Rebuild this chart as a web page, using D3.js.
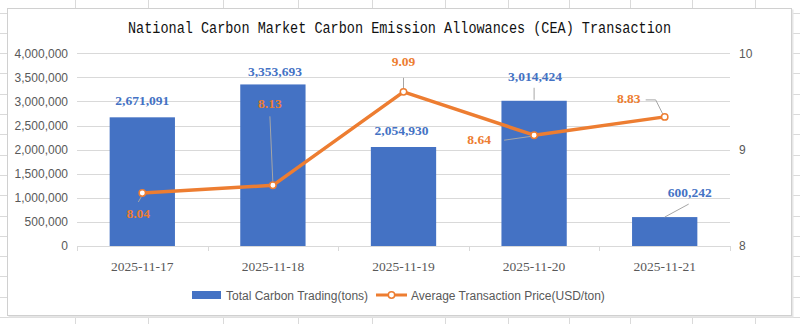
<!DOCTYPE html>
<html>
<head>
<meta charset="utf-8">
<script src="https://cdn.jsdelivr.net/npm/d3@7"></script>
<style>
  html, body { margin: 0; padding: 0; background: #fff; }
  svg { display: block; }
</style>
</head>
<body>
<script>
// ---------------- DATA ----------------
const categories = ["2025-11-17", "2025-11-18", "2025-11-19", "2025-11-20", "2025-11-21"];
const volumeTons = [2671091, 3353693, 2054930, 3014424, 600242];
// price values as plotted on the secondary axis
const pricePlotted = [8.55, 8.63, 9.60, 9.15, 9.34];
// price data labels as printed on the chart
const priceLabels = ["8.04", "8.13", "9.09", "8.64", "8.83"];
const leftTicks = [0, 500000, 1000000, 1500000, 2000000, 2500000, 3000000, 3500000, 4000000];
const rightTicks = [8, 9, 10];
const seriesNames = ["Total Carbon Trading(tons)", "Average Transaction Price(USD/ton)"];
const title = "National Carbon Market Carbon Emission Allowances (CEA) Transaction";

// ---------------- LAYOUT ----------------
const W = 800, H = 324;
const plot = { left: 77, right: 730, top: 53.3, bottom: 246 };
const blue = "#4472C4", orange = "#ED7D31", axisText = "#595959", grid = "#d9d9d9", leader = "#a6a6a6";

// label placement (pixel offsets, layout only)
const barLabelOff = [[0, -12], [2, -8], [-2, -12], [1, -20], [25, -20]];
const barLeader = [null, null, null, [[0, -1], [0, -13]], [[0, 0], [24, -13]]];
const priceLabelOff = [[-4, 25], [-3, -77], [0, -26], [-55, 9], [-36, -14]];
const priceLeader = [
  [[0, 2], [-4, 9]],
  [[-3, -69], [0, -2]],
  [[0, -14], [0, -3]],
  [[-30, 5], [-2, 1]],
  [[-19, -17], [-9, -17], [-2, -3]]
];

const svg = d3.select("body").append("svg").attr("width", W).attr("height", H);

// spreadsheet background grid
const colLines = [75, 148, 223, 298, 372, 445, 508, 569, 630, 692, 755];
const rowLines = d3.range(0, 16).map(i => 13 + i * 20.3);
svg.append("g").selectAll("line.c").data(colLines).join("line")
  .attr("x1", d => d).attr("x2", d => d).attr("y1", 0).attr("y2", H)
  .attr("stroke", "#dadada").attr("stroke-width", 1).attr("shape-rendering", "crispEdges");
svg.append("g").selectAll("line.r").data(rowLines).join("line")
  .attr("x1", 0).attr("x2", W).attr("y1", d => d).attr("y2", d => d)
  .attr("stroke", "#dadada").attr("stroke-width", 1).attr("shape-rendering", "crispEdges");

// chart frame
svg.append("rect").attr("x", 8.5).attr("y", 9.5).attr("width", 785).attr("height", 308)
  .attr("fill", "#e6e6e6");
svg.append("rect").attr("x", 7.5).attr("y", 8.5).attr("width", 784).attr("height", 307)
  .attr("fill", "#fff").attr("stroke", "#d0d0d0").attr("stroke-width", 1);

// title
svg.append("text").attr("x", 128).attr("y", 33)
  .attr("font-family", "'Liberation Mono', 'DejaVu Sans Mono', monospace")
  .attr("font-size", 16).attr("fill", "#111")
  .attr("textLength", 543).attr("lengthAdjust", "spacingAndGlyphs")
  .text(title);

// scales
const x = d3.scaleBand().domain(categories).range([plot.left, plot.right]).paddingInner(0.5).paddingOuter(0.25);
const xc = d3.scalePoint().domain(categories).range([plot.left, plot.right]).padding(0.5);
const yL = d3.scaleLinear().domain([0, 4000000]).range([plot.bottom, plot.top]);
const yR = d3.scaleLinear().domain([8, 10]).range([plot.bottom, plot.top]);

// gridlines
svg.append("g").selectAll("line").data(leftTicks.slice(1)).join("line")
  .attr("x1", plot.left).attr("x2", plot.right)
  .attr("y1", d => Math.round(yL(d)) + 0.5).attr("y2", d => Math.round(yL(d)) + 0.5)
  .attr("stroke", grid).attr("stroke-width", 1);

// left axis
const axL = d3.axisLeft(yL).tickValues(leftTicks).tickSize(0).tickPadding(9).tickFormat(d3.format(","));
const gL = svg.append("g").attr("transform", `translate(${plot.left},0)`).call(axL);
gL.select(".domain").remove();
gL.selectAll("text").attr("font-family", "'Liberation Sans', Arial, sans-serif").attr("font-size", 12).attr("fill", axisText);

// right axis
const axR = d3.axisRight(yR).tickValues(rightTicks).tickSize(0).tickPadding(9).tickFormat(d3.format("d"));
const gR = svg.append("g").attr("transform", `translate(${plot.right},0)`).call(axR);
gR.select(".domain").remove();
gR.selectAll("text").attr("font-family", "'Liberation Sans', Arial, sans-serif").attr("font-size", 12).attr("fill", axisText);

// bars
svg.append("g").selectAll("rect").data(volumeTons).join("rect")
  .attr("x", (d, i) => x(categories[i]))
  .attr("width", x.bandwidth())
  .attr("y", d => yL(d))
  .attr("height", d => yL(0) - yL(d))
  .attr("fill", blue);

// x axis
const axB = d3.axisBottom(x).tickSize(0).tickPadding(15);
const gB = svg.append("g").attr("transform", `translate(0,${plot.bottom})`).call(axB);
gB.select(".domain").attr("stroke", grid).attr("d", `M${plot.left},0.5H${plot.right}`);
gB.selectAll("text").attr("font-family", "'Liberation Serif', 'Times New Roman', serif").attr("font-size", 13.5).attr("fill", axisText);
// category boundary ticks
const bounds = d3.range(0, categories.length + 1).map(i => plot.left + i * (plot.right - plot.left) / categories.length);
gB.append("g").selectAll("line").data(bounds).join("line")
  .attr("x1", d => Math.round(d) + 0.5).attr("x2", d => Math.round(d) + 0.5)
  .attr("y1", 0).attr("y2", 5).attr("stroke", grid);

// price line
const linePts = pricePlotted.map((v, i) => [xc(categories[i]), yR(v)]);
svg.append("path").attr("d", d3.line()(linePts))
  .attr("fill", "none").attr("stroke", orange).attr("stroke-width", 3.5).attr("stroke-linejoin", "round");

// leaders (drawn before markers)
const lg = svg.append("g").attr("fill", "none").attr("stroke", leader).attr("stroke-width", 1);
volumeTons.forEach((v, i) => {
  if (!barLeader[i]) return;
  const cx = x(categories[i]) + x.bandwidth() / 2, cy = yL(v);
  lg.append("path").attr("d", d3.line()(barLeader[i].map(p => [cx + p[0], cy + p[1]])));
});
linePts.forEach((p, i) => {
  lg.append("path").attr("d", d3.line()(priceLeader[i].map(q => [p[0] + q[0], p[1] + q[1]])));
});

// markers
svg.append("g").selectAll("circle").data(linePts).join("circle")
  .attr("cx", d => d[0]).attr("cy", d => d[1]).attr("r", 3.2)
  .attr("fill", "#fff").attr("stroke", orange).attr("stroke-width", 1.5);

// bar labels
svg.append("g").selectAll("text").data(volumeTons).join("text")
  .attr("x", (d, i) => x(categories[i]) + x.bandwidth() / 2 + barLabelOff[i][0])
  .attr("y", (d, i) => yL(d) + barLabelOff[i][1])
  .attr("text-anchor", "middle")
  .attr("font-family", "'Liberation Serif', 'Times New Roman', serif")
  .attr("font-weight", "bold").attr("font-size", 13.5).attr("fill", blue)
  .text(d => d3.format(",")(d));

// price labels
svg.append("g").selectAll("text").data(priceLabels).join("text")
  .attr("x", (d, i) => linePts[i][0] + priceLabelOff[i][0])
  .attr("y", (d, i) => linePts[i][1] + priceLabelOff[i][1])
  .attr("text-anchor", "middle")
  .attr("font-family", "'Liberation Serif', 'Times New Roman', serif")
  .attr("font-weight", "bold").attr("font-size", 13.5).attr("fill", orange)
  .text(d => d);

// legend
const leg = svg.append("g").attr("font-family", "'Liberation Sans', Arial, sans-serif").attr("font-size", 12).attr("fill", axisText);
leg.append("rect").attr("x", 192).attr("y", 291).attr("width", 29).attr("height", 8).attr("fill", blue);
leg.append("text").attr("x", 226).attr("y", 299.5).text(seriesNames[0]);
leg.append("line").attr("x1", 376).attr("x2", 407).attr("y1", 295).attr("y2", 295).attr("stroke", orange).attr("stroke-width", 3);
leg.append("circle").attr("cx", 391.5).attr("cy", 295).attr("r", 3.2).attr("fill", "#fff").attr("stroke", orange).attr("stroke-width", 1.5);
leg.append("text").attr("x", 411).attr("y", 299.5).text(seriesNames[1]);
</script>
</body>
</html>
